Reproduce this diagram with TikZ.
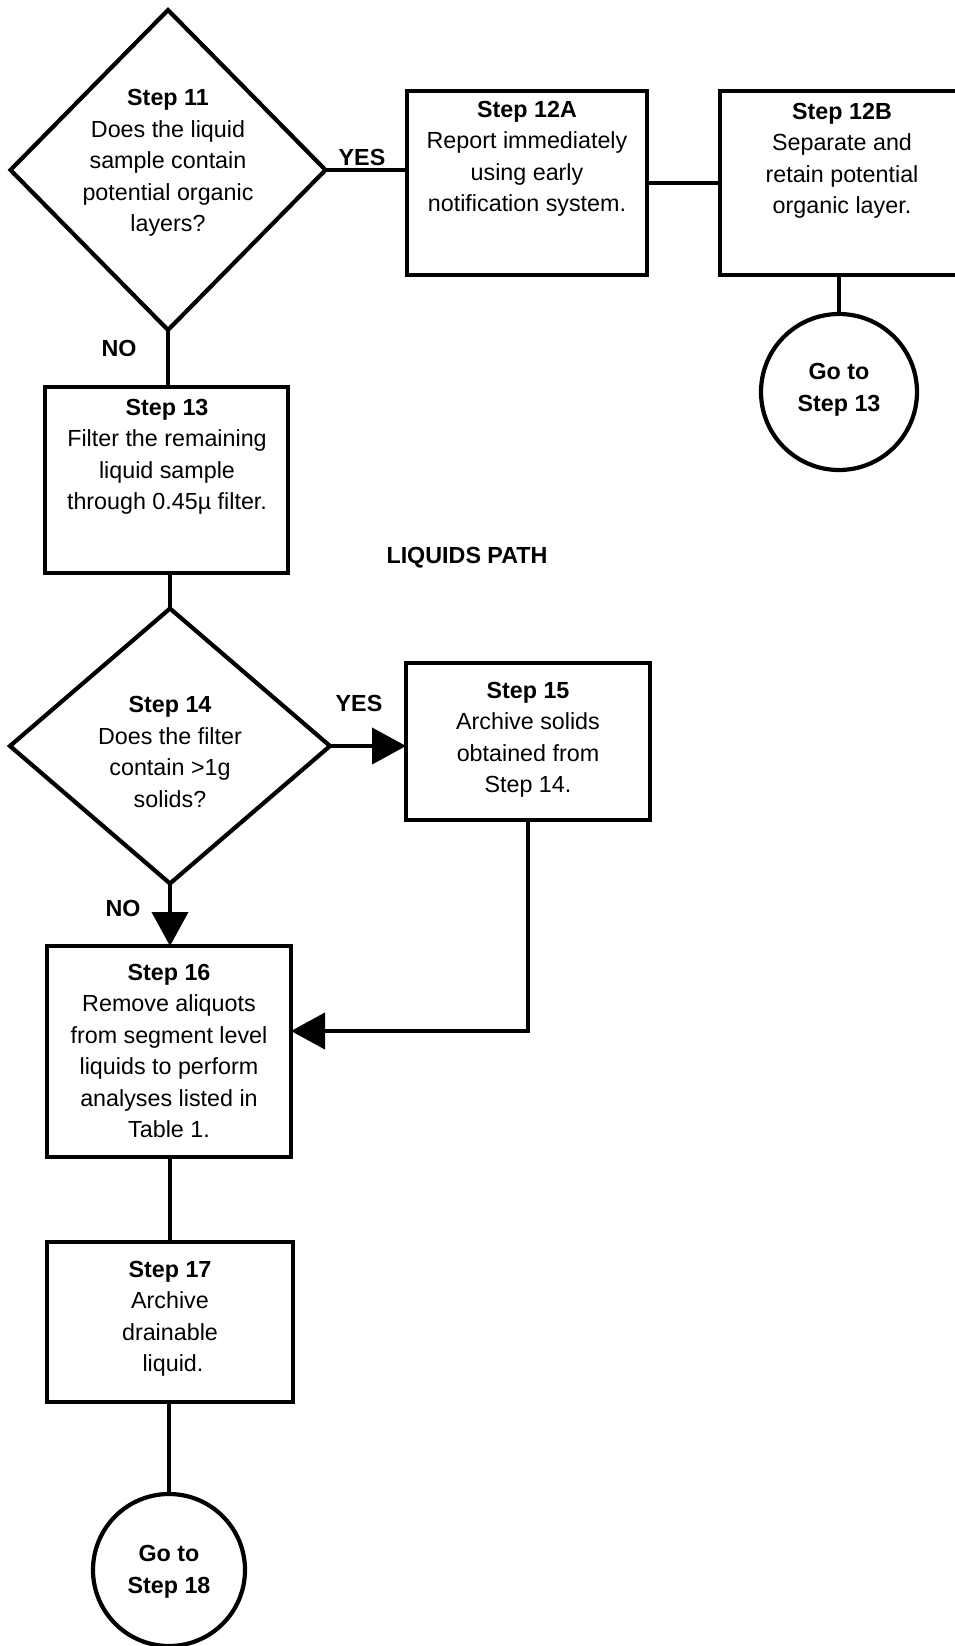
\documentclass[tikz,border=0pt]{standalone}
\usepackage{fontspec}
\setmainfont{Liberation Sans}
\usetikzlibrary{shapes.geometric,arrows.meta}
\begin{document}
\begin{tikzpicture}[x=1pt,y=-1pt,
  every node/.style={font=\fontsize{23.3}{31.5}\selectfont},
  ln/.style={line width=4.2pt},
  boxn/.style={draw,line width=4.2pt,rectangle,inner sep=0pt,outer sep=0pt},
  dia/.style={draw,line width=4.2pt,diamond,inner sep=0pt,outer sep=0pt},
  circ/.style={draw,line width=4.2pt,circle,inner sep=0pt,outer sep=0pt},
  txt/.style={align=center,inner sep=0pt},
  btxt/.style={align=center,inner sep=0pt,font=\fontsize{23.3}{31.5}\selectfont\bfseries},
  lbl/.style={inner sep=0pt,font=\fontsize{23.3}{31.5}\selectfont\bfseries},
  arr/.style={line width=4.2pt,-{Triangle[length=34pt,width=36pt]}}
]
\useasboundingbox (0,0) rectangle (954,1646);

% Step 11
\node[dia,minimum width=315pt,minimum height=320pt] (d11) at (168,170) {};
\node[txt] (t11) at (168,163) {\textbf{Step 11}\\Does the liquid\\sample contain\\potential organic\\layers?};

% Step 12A
\node[boxn,minimum width=240pt,minimum height=184pt] (s12a) at (527,183) {};
\node[txt] (t12a) at (527,159) {\textbf{Step 12A}\\Report immediately\\using early\\notification system.};

% Step 12B
\node[boxn,minimum width=244pt,minimum height=184pt] (s12b) at (842,183) {};
\node[txt] (t12b) at (842,161) {\textbf{Step 12B}\\Separate and\\retain potential\\organic layer.};

% Go to Step 13
\node[circ,minimum size=156pt] (c13) at (839,392) {};
\node[btxt] (tc13) at (839,390) {Go to\\Step 13};

% Step 13
\node[boxn,minimum width=243pt,minimum height=186pt] (s13) at (166.5,480) {};
\node[txt] (t13) at (167,457) {\textbf{Step 13}\\Filter the remaining\\liquid sample\\through 0.45µ filter.};

\node[lbl] (liq) at (467,558) {LIQUIDS PATH};

% Step 14
\node[dia,minimum width=320pt,minimum height=275pt] (d14) at (170,746) {};
\node[txt] (t14) at (170,752) {\textbf{Step 14}\\Does the filter\\contain >1g\\solids?};

% Step 15
\node[boxn,minimum width=244pt,minimum height=157pt] (s15) at (528,741.5) {};
\node[txt] (t15) at (528,740) {\textbf{Step 15}\\Archive solids\\obtained from\\Step 14.};

% Step 16
\node[boxn,minimum width=244pt,minimum height=211pt] (s16) at (169,1051.5) {};
\node[txt] (t16) at (169,1051) {\textbf{Step 16}\\Remove aliquots\\from segment level\\liquids to perform\\analyses listed in\\Table 1.};

% Step 17
\node[boxn,minimum width=246pt,minimum height=160pt] (s17) at (170,1322) {};
\node[txt] (t17) at (170,1319) {\textbf{Step 17}\\Archive\\drainable\\\hspace*{6pt}liquid.};

% Go to Step 18
\node[circ,minimum size=152pt] (c18) at (169,1570) {};
\node[btxt] (tc18) at (169,1572) {Go to\\Step 18};

% labels
\node[lbl] (yes1) at (362,157) {YES};
\node[lbl] (no1) at (119,348) {NO};
\node[lbl] (yes2) at (359,703) {YES};
\node[lbl] (no2) at (123,908) {NO};

% connectors
\draw[ln] (d11.east) -- (d11.east -| s12a.west);
\draw[ln] (s12a.east) -- (s12b.west);
\draw[ln] (c13.north |- s12b.south) -- (c13.north);
\draw[ln] (d11.south) -- (d11.south |- s13.north);
\draw[ln] (s13.south -| d14.north) -- (d14.north);
\draw[arr] (d14.east) -- (d14.east -| s15.west);
\draw[arr] (d14.south) -- (d14.south |- s16.north);
\coordinate (bend) at (s15.south |- 0,1031);
\draw[arr] (s15.south) -- (bend) -- (bend -| s16.east);
\draw[ln] (s16.south -| s17.north) -- (s17.north);
\draw[ln] (c18.north |- s17.south) -- (c18.north);
\end{tikzpicture}
\end{document}
